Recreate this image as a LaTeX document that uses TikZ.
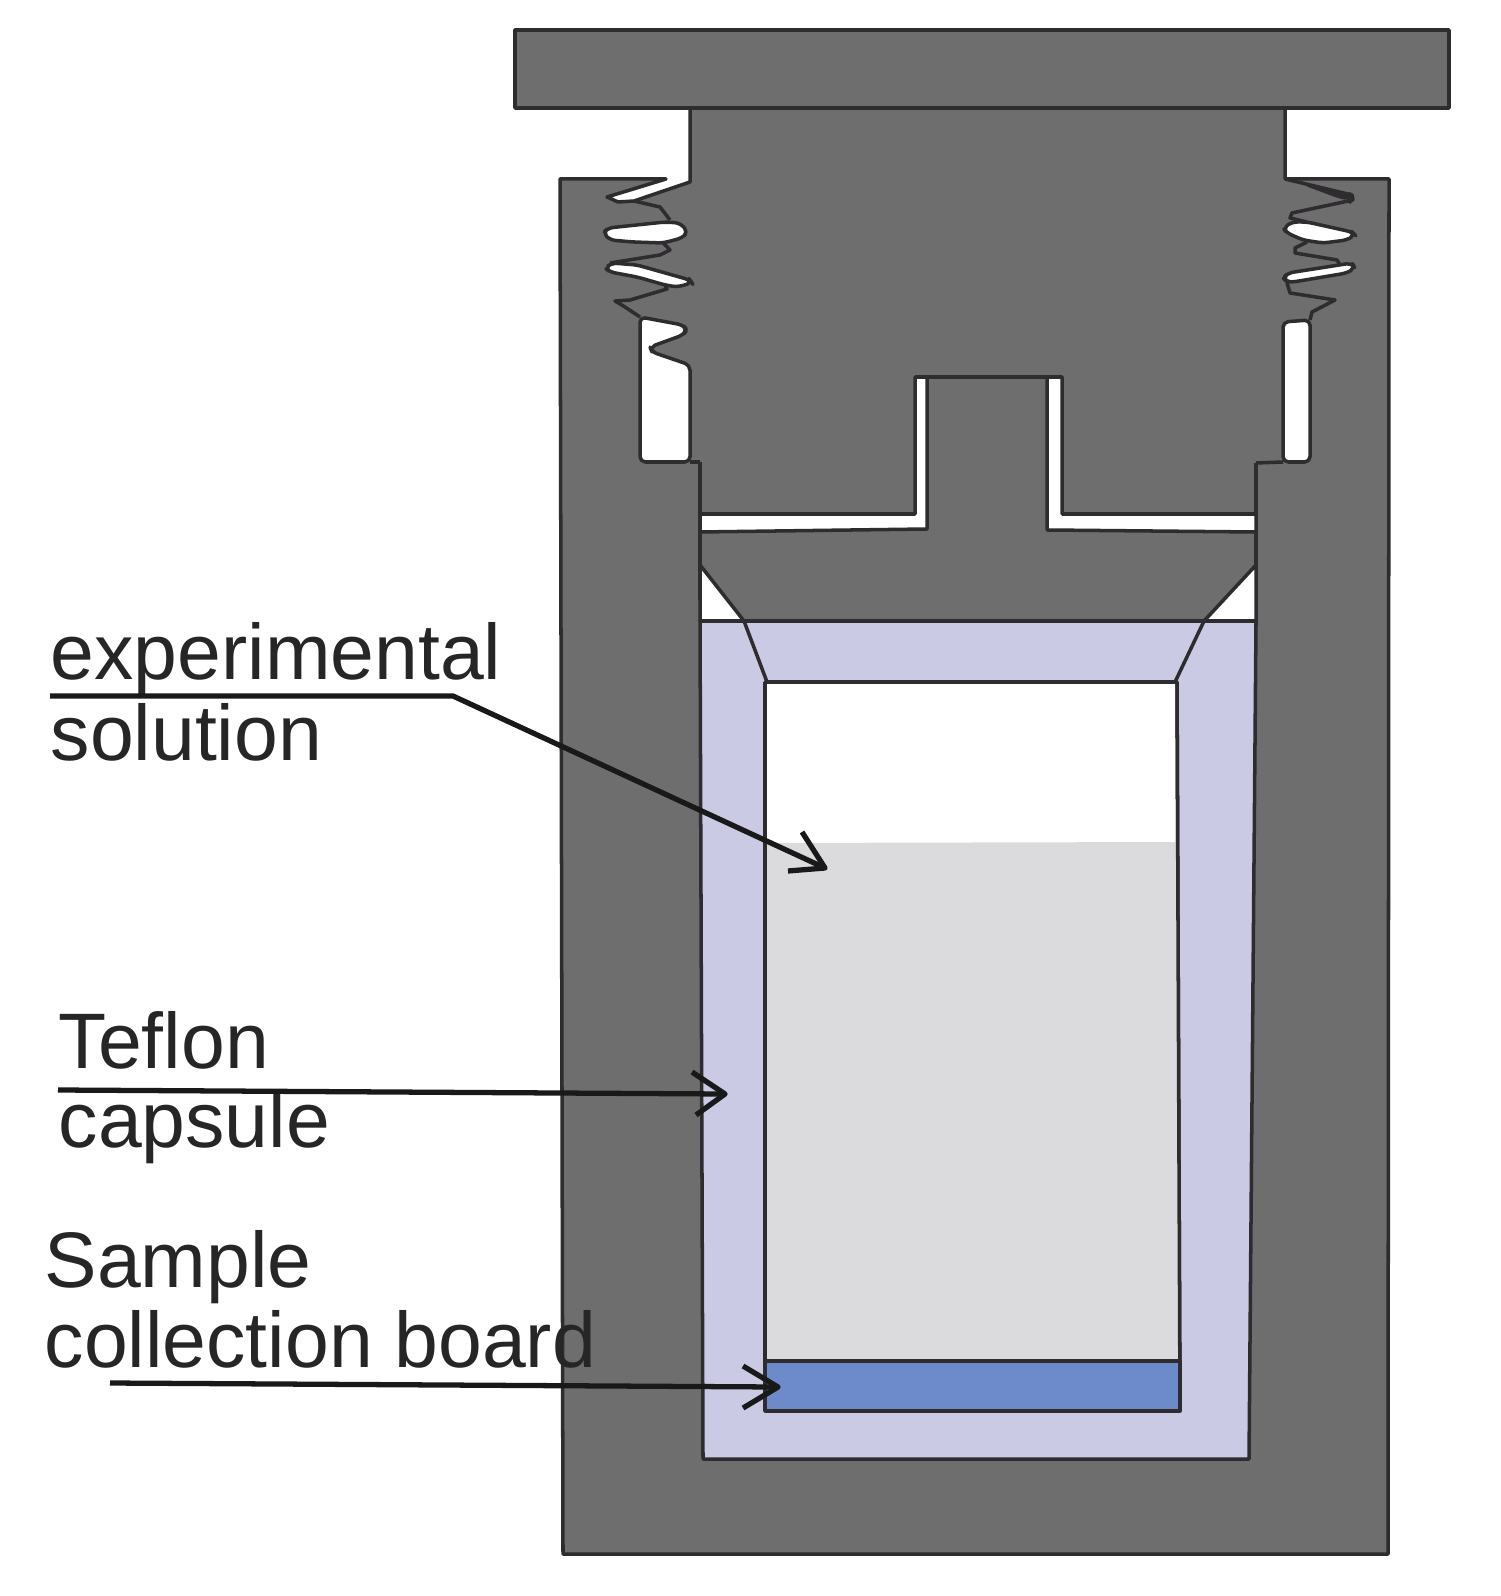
\documentclass[tikz,border=0pt]{standalone}
\usepackage{fontspec}
\setmainfont{Liberation Sans}
\usetikzlibrary{arrows}
\definecolor{steel}{HTML}{6F6E6F}
\definecolor{teflon}{HTML}{CBCAE4}
\definecolor{solution}{HTML}{DBDBDD}
\definecolor{board}{HTML}{6D8BCB}
\definecolor{edge}{HTML}{2E2C2E}
\tikzset{
part/.style={draw=edge,line width=1pt,line join=round},
thread/.style={part,fill=white,rounded corners=1.5pt},
leader/.style={draw=black!90,line width=1.5pt},
label/.style={anchor=base west,inner sep=0pt,font=\fontsize{22.4}{24}\selectfont,text=black!85}
}
\begin{document}
\begin{tikzpicture}[x=0.1mm,y=-0.1mm]
\useasboundingbox (0,0) rectangle (1500,1596);
% body and plug
\draw[part,fill=steel](560,179)--(666,179)--(607,197)--(618,202)--(634,201)--(690,182)--(690,108)--(1285,108)
--(1285,179)--(1389,179)--(1388,1554)--(563,1554)--cycle;
\draw[part,fill=steel](515,30)rectangle(1449,108);
% left threads
\draw[part](634,201)--(660,207)--(670,220);
\draw[thread](603,233)--(608,228)--(665,222)--(680,223)--(688,232)--(682,238)--(663,243)--(633,242)--(610,240)--cycle;
\draw[part](663,243)--(670,250)--(660,255)--(610,263);
\draw[thread](605,268)--(612,263)--(637,265)--(690,280)--(692,283)--(677,287)--(665,285)--(637,277)--(610,272)--cycle;
\draw[part](665,285)--(667,289)--(630,300)--(615,301)--(625,307)--(640,317);
\draw[thread](640,317)--(683,325)--(687,330)--(683,335)--(650,347)--(652,352)--(690,365)--(690,462)--(640,462)--cycle;
\draw[part](690,462)--(700,462);
% right threads
\draw[part](1285,179)--(1352,195)--(1353,200)--(1292,213)--(1290,218)--(1307,222);
\draw[thread](1305,184)--(1350,197)--(1350,199)--(1340,197)--cycle;
\draw[thread](1283,228)--(1292,222)--(1307,222)--(1352,232)--(1355,235)--(1347,240)--(1323,243)--(1303,240)--(1287,233)--cycle;
\draw[part](1307,242)--(1295,248)--(1295,253)--(1337,260)--(1340,265);
\draw[thread](1283,278)--(1288,273)--(1352,263)--(1355,268)--(1347,273)--(1293,282)--(1287,282)--cycle;
\draw[part](1287,283)--(1290,293)--(1335,300)--(1312,312)--(1310,320);
\draw[thread](1283,322)--(1310,320)--(1310,462)--(1283,462)--cycle;
\draw[part](1283,462)--(1256,463);
% slot round the stem
\draw[part](700,462)--(700,600);
\draw[part](1256,463)--(1256,600);
\draw[part,fill=white](700,514)--(915,514)--(915,377)--(927,377)--(927,529)--(700,532)--cycle;
\draw[part,fill=white](1047,377)--(1062,377)--(1062,514)--(1256,514)--(1256,532)--(1047,530)--cycle;
\draw[part](927,377)--(1047,377);
% capsule
\draw[part,fill=white](700,565)--(744,621)--(700,621)--cycle;
\draw[part,fill=white](1256,565)--(1204,621)--(1256,621)--cycle;
\draw[part,fill=teflon](700,621)--(1256,621)--(1249,1459)--(703,1459)--cycle;
\draw[part,fill=teflon](744,621)--(1204,621)--(1175,682)--(767,682)--cycle;
\draw[part,fill=white](765,682)--(1177,682)--(1180,1411)--(765,1411)--cycle;
\fill[solution](766,843)--(1177,842)--(1179,1361)--(766,1361)--cycle;
\draw[part,fill=board](765,1361)--(1180,1361)--(1180,1411)--(765,1411)--cycle;
\draw[part](765,682)--(765,1411);
\draw[part](1177,682)--(1180,1411);
% labels
\node[label](expA)at(50,680){experimental};
\node[label](expB)at(50,760){solution};
\node[label](tefA)at(58,1068){Teflon};
\node[label](tefB)at(58,1147){capsule};
\node[label](samA)at(44,1287){Sample};
\node[label](samB)at(44,1367){collection board};
% arrows
\coordinate(expTail)at(50,696);
\coordinate(expKnee)at(453,696);
\coordinate(expTip)at(825,868);
\draw[leader,line join=round](expTail)--(expKnee)--(expTip);
\draw[leader,line join=round](802,832)--(expTip)--(788,871);
\coordinate(tefTail)at(58,1090);
\coordinate(tefTip)at(725,1094);
\draw[leader](tefTail)--(tefTip);
\draw[leader,line join=round](692,1072)--(tefTip)--(696,1115);
\coordinate(samTail)at(110,1383);
\coordinate(samTip)at(778,1387);
\draw[leader](samTail)--(samTip);
\draw[leader,line join=round](743,1366)--(samTip)--(743,1408);
\end{tikzpicture}
\end{document}
